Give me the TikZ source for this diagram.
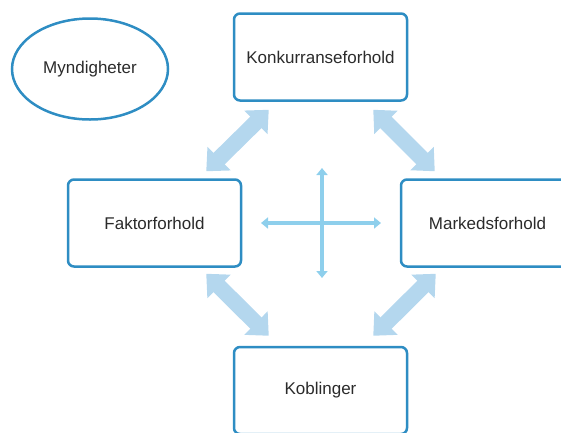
\documentclass[tikz,border=0pt]{standalone}
\usepackage{fontspec}
\setmainfont{Liberation Sans}
\usetikzlibrary{arrows.meta,calc,shapes.geometric}
\definecolor{boxblue}{HTML}{2E8DC3}
\definecolor{fatblue}{HTML}{B4D7EE}
\definecolor{crossblue}{HTML}{8ECFEC}
\definecolor{txtgray}{HTML}{2B2B2B}

\begin{document}
\begin{tikzpicture}[x=1pt,y=-1pt,
  boks/.style={draw=boxblue,line width=2.5pt,rounded corners=6pt,fill=white,
    minimum width=173pt,minimum height=87pt,inner sep=0pt,text=txtgray,
    font=\fontsize{17}{20}\selectfont},
  fatarrow/.style={draw=fatblue,line width=16pt,
    {Triangle[width=32pt,length=18pt]}-{Triangle[width=32pt,length=18pt]}},
  crossarrow/.style={draw=crossblue,line width=4.5pt,
    {Triangle[width=11pt,length=7pt]}-{Triangle[width=11pt,length=7pt]}}]
\useasboundingbox (0,0) rectangle (561,432);

\node[boks] (konk) at (320.5,57) {Konkurranseforhold};
\node[boks] (faktor) at (154.5,223) {Faktorforhold};
\node[boks] (marked) at (487.5,223) {Markedsforhold};
\node[boks] (kobl) at (320.5,390.5) {Koblinger};
\node[ellipse,draw=boxblue,line width=2.5pt,minimum width=156pt,minimum height=101pt,
  inner sep=0pt,text=txtgray,font=\fontsize{17}{20}\selectfont] (myndig) at (90,69) {Myndigheter};

% brede piler mellom boksene
\draw[fatarrow] ($(konk.south west)+(36,8)$) -- ($(faktor.north east)+(-36,-7)$);
\draw[fatarrow] ($(konk.south east)+(-35,8)$) -- ($(marked.north west)+(35,-7)$);
\draw[fatarrow] ($(faktor.south east)+(-36,6)$) -- ($(kobl.north west)+(36,-10)$);
\draw[fatarrow] ($(marked.south west)+(36,6)$) -- ($(kobl.north east)+(-35,-10)$);

% kors i midten
\coordinate (korsN) at (322,168);
\coordinate (korsS) at (322,278);
\coordinate (korsW) at (261,223);
\coordinate (korsE) at (381,223);
\draw[crossarrow] (korsN) -- (korsS);
\draw[crossarrow] (korsW) -- (korsE);
\end{tikzpicture}
\end{document}
